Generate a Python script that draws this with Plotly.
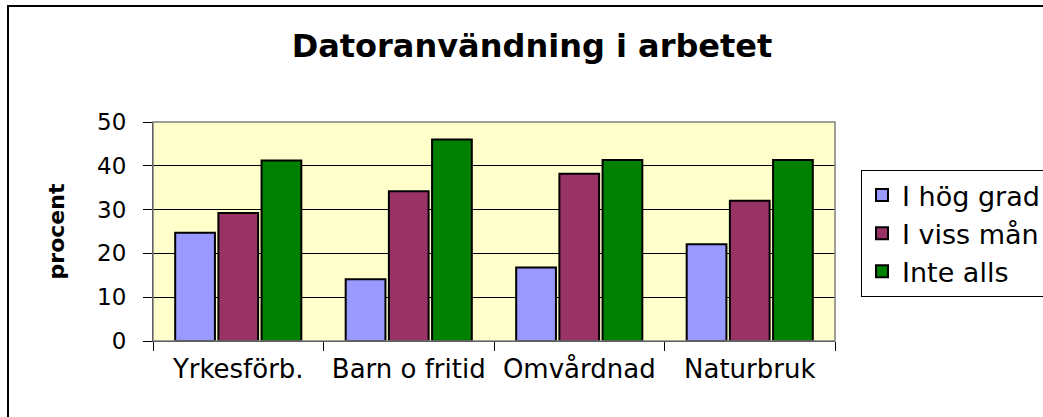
import plotly.graph_objects as go

categories = ["Yrkesförb.", "Barn o fritid", "Omvårdnad", "Naturbruk"]
series_names = ["I hög grad", "I viss mån", "Inte alls"]
hog_grad = [24.7, 14.1, 16.8, 22.1]
viss_man = [29.2, 34.2, 38.2, 32.0]
inte_alls = [41.2, 46.0, 41.3, 41.3]
colors = ["#9999FF", "#993366", "#008000"]

FONT = "DejaVu Sans, Verdana, sans-serif"

fig = go.Figure()
for name, vals, col in zip(series_names, [hog_grad, viss_man, inte_alls], colors):
    fig.add_trace(go.Bar(x=categories, y=vals, name=name,
                         marker=dict(color=col, line=dict(color="black", width=2))))

W, H = 1043, 417
L, R, T, B = 153, 208, 122, 76
pw, ph = W - L - R, H - T - B

def px_x(p):
    return (p - L) / pw

def px_y(p):
    return (H - B - p) / ph

fig.update_layout(
    width=W, height=H,
    margin=dict(l=L, r=R, t=T, b=B, autoexpand=False),
    paper_bgcolor="white",
    plot_bgcolor="#FFFFCC",
    font=dict(family=FONT, size=23, color="black"),
    barmode="group",
    bargap=0.24,
    bargroupgap=0.08,
    title=dict(text="<b>Datoranvändning i arbetet</b>", x=px_x(532), xref="paper",
               xanchor="center", y=1 - 46 / H, yanchor="middle",
               font=dict(family=FONT, size=32, color="black")),
    legend=dict(xref="container", yref="container", x=861 / W, y=1 - 170 / H,
                xanchor="left", yanchor="top",
                bordercolor="black", borderwidth=1, bgcolor="white",
                font=dict(family=FONT, size=27, color="black"),
                tracegroupgap=0),
    showlegend=True,
)
fig.update_xaxes(
    type="category", tickson="boundaries", ticks="outside", ticklen=9,
    tickcolor="black", showline=True, linecolor="black", linewidth=1,
    showgrid=False, tickfont=dict(size=26), ticklabelstandoff=5, fixedrange=True,
)
fig.update_yaxes(
    range=[0, 50], dtick=10, ticks="outside", ticklen=9, tickcolor="black",
    showline=True, linecolor="black", linewidth=1,
    showgrid=True, gridcolor="black", gridwidth=1, zeroline=False,
    tickfont=dict(size=23), ticklabelstandoff=12,
    title=dict(text="<b>procent</b>", font=dict(size=22), standoff=26),
    fixedrange=True,
)
# plot area gray frame
fig.add_shape(type="rect", xref="paper", yref="paper", x0=0, x1=1, y0=0, y1=1,
              line=dict(color="#808080", width=1.5), layer="above")
# outer chart border (extends beyond the visible page on right and bottom)
fig.add_shape(type="rect", xref="paper", yref="paper",
              x0=px_x(8), x1=px_x(1060), y0=px_y(430), y1=px_y(6),
              line=dict(color="black", width=2), layer="above")

fig.write_html("out.html", config={"displayModeBar": False},
               post_script="document.body.style.margin='0';document.body.style.overflow='hidden';")
